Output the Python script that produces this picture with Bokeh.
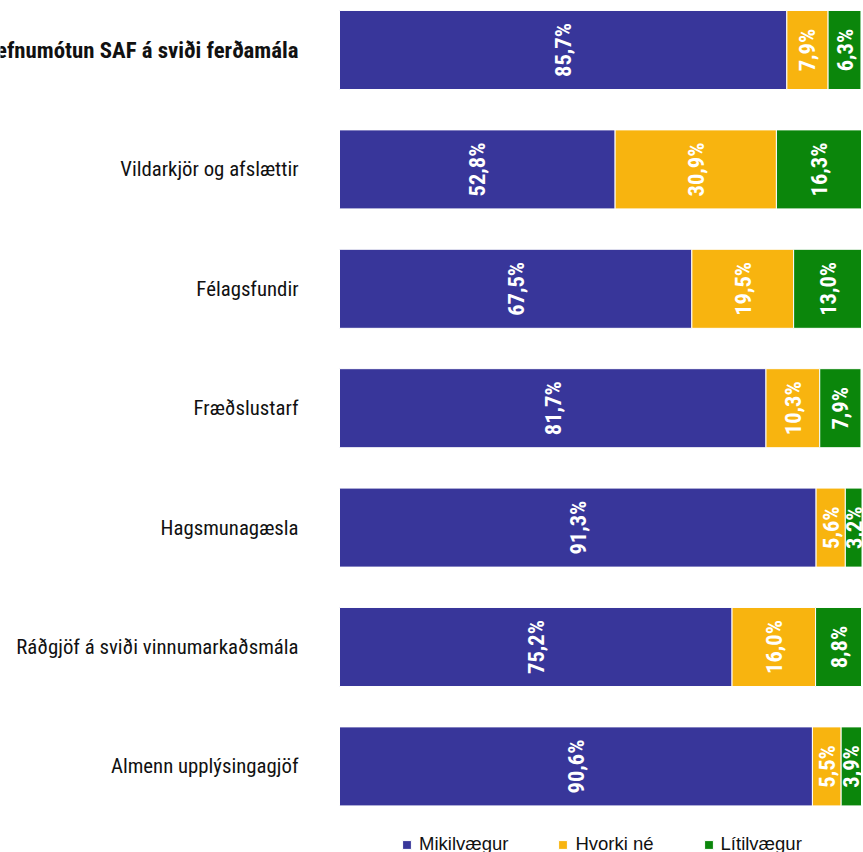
import math
from bokeh.plotting import figure
from bokeh.models import ColumnDataSource, Range1d, Legend, LegendItem
from bokeh.core.properties import value
from bokeh.embed import file_html
from bokeh.resources import INLINE

categories = [
    "Stefnumótun SAF á sviði ferðamála",
    "Vildarkjör og afslættir",
    "Félagsfundir",
    "Fræðslustarf",
    "Hagsmunagæsla",
    "Ráðgjöf á sviði vinnumarkaðsmála",
    "Almenn upplýsingagjöf",
]
bold_flags = [True, False, False, False, False, False, False]
mikilvaegur = [85.7, 52.8, 67.5, 81.7, 91.3, 75.2, 90.6]
hvorki_ne = [7.9, 30.9, 19.5, 10.3, 5.6, 16.0, 5.5]
litilvaegur = [6.3, 16.3, 13.0, 7.9, 3.2, 8.8, 3.9]
series_names = ["Mikilvægur", "Hvorki né", "Lítilvægur"]
colors = ["#38369A", "#F8B40F", "#0B860B"]

NARROW = "Roboto Condensed"

W, H = 863, 852
PX_X = 522.0     # pixels per 100 %
PX_Y = 119.4     # pixels per category
p = figure(width=W, height=H, output_backend="svg", toolbar_location=None,
           x_range=Range1d(-339 / PX_X, -339 / PX_X + W / PX_X),
           y_range=Range1d(-49.5 / PX_Y + H / PX_Y, -49.5 / PX_Y),
           min_border=0, outline_line_color=None)
p.xaxis.visible = False
p.yaxis.visible = False
p.grid.visible = False

ypos = list(range(len(categories)))
series = [mikilvaegur, hvorki_ne, litilvaegur]
renderers = []
left = [0.0] * len(categories)
for vals, name, col in zip(series, series_names, colors):
    frac = [v / 100 for v in vals]
    right = [l + f for l, f in zip(left, frac)]
    src = ColumnDataSource(dict(
        y=ypos, left=left, right=right,
        mid=[(l + r) / 2 for l, r in zip(left, right)],
        lbl=[f"{v:.1f}".replace(".", ",") + "%" for v in vals],
    ))
    r = p.hbar(y="y", left="left", right="right", height=0.662, source=src,
               fill_color=col, line_color="white", line_width=1)
    renderers.append(r)
    p.text(x="mid", y="y", text="lbl", source=src, angle=math.pi / 2,
           text_align="center", text_baseline="middle", text_color="white",
           text_font=value(NARROW), text_font_style="bold",
           text_font_size="22.5px")
    left = right

cat_src = ColumnDataSource(dict(
    x=[0.0] * len(categories), y=ypos, t=categories,
    st=["bold" if b else "normal" for b in bold_flags],
    sz=["22.8px" if b else "20.8px" for b in bold_flags],
))
p.text(x="x", y="y", text="t", source=cat_src, x_offset=-41,
       text_align="right", text_baseline="middle", text_color="#111111",
       text_font=value(NARROW), text_font_style={"field": "st"},
       text_font_size={"field": "sz"})

legend = Legend(items=[LegendItem(label=n, renderers=[r]) for n, r in zip(series_names, renderers)],
                orientation="horizontal", location=(401, -3),
                glyph_width=11, glyph_height=11, label_standoff=7,
                label_width=0, spacing=49, padding=0, margin=0,
                border_line_alpha=0, background_fill_alpha=0,
                label_text_font="Liberation Sans",
                label_text_font_size="18.5px", label_text_color="#111111")
p.add_layout(legend)

open("out.html", "w").write(file_html(p, INLINE))
